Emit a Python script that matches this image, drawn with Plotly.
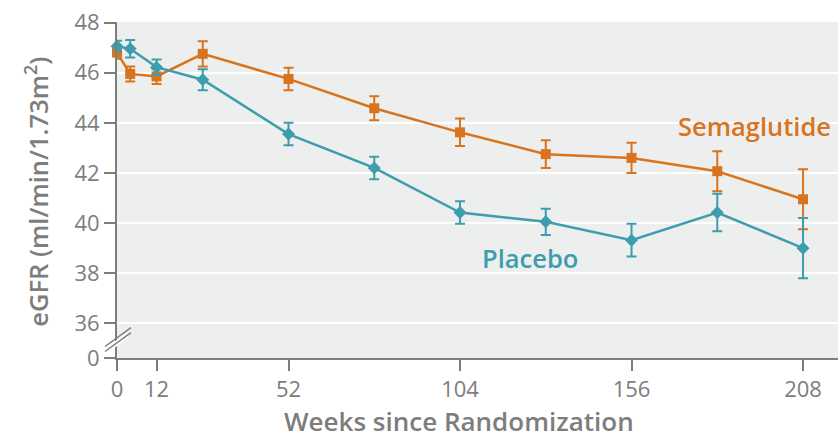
import plotly.graph_objects as go

# Visit schedule (weeks since randomization)
weeks = [0, 4, 12, 26, 52, 78, 104, 130, 156, 182, 208]

# Mean eGFR and error-bar half widths, ml/min/1.73 m2
sema_egfr = [46.8, 45.95, 45.85, 46.75, 45.75, 44.58, 43.62, 42.75, 42.6, 42.07, 40.95]
sema_err = [0.25, 0.3, 0.3, 0.5, 0.45, 0.48, 0.55, 0.55, 0.6, 0.8, 1.2]
plac_egfr = [47.05, 46.95, 46.22, 45.72, 43.55, 42.2, 40.42, 40.05, 39.32, 40.42, 39.0]
plac_err = [0.22, 0.35, 0.3, 0.42, 0.45, 0.45, 0.45, 0.52, 0.65, 0.75, 1.2]

x_ticks = [0, 12, 52, 104, 156, 208]
y_ticks = [36, 38, 40, 42, 44, 46, 48]
y_zero_pos = 34.62  # where the "0" of the broken axis sits

ORANGE = "#D8741E"
TEAL = "#3E9DAD"
GREY = "#7d7d7d"
FONT = "Open Sans"

W, H = 838, 438
ML, MR, MT, MB = 117, 0, 21.5, 80

fig = go.Figure()

fig.add_trace(go.Scatter(
    x=weeks, y=sema_egfr, mode="lines+markers", name="Semaglutide",
    line=dict(color=ORANGE, width=2.5),
    marker=dict(symbol="square", size=10, color=ORANGE),
    error_y=dict(type="data", array=sema_err, visible=True,
                 color=ORANGE, thickness=2, width=5),
    cliponaxis=False,
))
fig.add_trace(go.Scatter(
    x=weeks, y=plac_egfr, mode="lines+markers", name="Placebo",
    line=dict(color=TEAL, width=2.5),
    marker=dict(symbol="diamond", size=10, color=TEAL),
    error_y=dict(type="data", array=plac_err, visible=True,
                 color=TEAL, thickness=2, width=5),
    cliponaxis=False,
))

# Series labels
fig.add_annotation(x=193.4, y=43.88, xref="x", yref="y", text="Semaglutide",
                   xanchor="center", yanchor="middle", showarrow=False,
                   font=dict(family=FONT, size=25.5, color=ORANGE, weight=600))
fig.add_annotation(x=125.1, y=38.62, xref="x", yref="y", text="Placebo",
                   xanchor="center", yanchor="middle", showarrow=False,
                   font=dict(family=FONT, size=25.5, color=TEAL, weight=600))

pw = W - ML - MR
ph = H - MT - MB


def px_x(p):
    return (p - ML) / pw


def px_y(p):
    return (H - MB - p) / ph


# Axis titles
fig.add_annotation(x=px_x(459), y=px_y(421), xref="paper", yref="paper",
                   xanchor="center", yanchor="middle",
                   text="Weeks since Randomization", showarrow=False,
                   font=dict(family=FONT, size=26, color=GREY, weight=600))
fig.add_annotation(x=px_x(37), y=px_y(191.5), xref="paper", yref="paper",
                   xanchor="center", yanchor="middle",
                   text="eGFR (ml/min/1.73m<sup>2</sup>)", showarrow=False,
                   textangle=-90, font=dict(family=FONT, size=25.5, color=GREY, weight=600))

# Axis break marks on the y axis
fig.add_shape(type="line", xref="paper", yref="paper",
              x0=px_x(111), y0=px_y(347.5), x1=px_x(128), y1=px_y(334.5),
              line=dict(color="white", width=5), layer="above")
for dy in (-2.5, 2.5):
    fig.add_shape(type="line", xref="paper", yref="paper",
                  x0=px_x(105), y0=px_y(349 + dy), x1=px_x(131), y1=px_y(330 + dy),
                  line=dict(color=GREY, width=1.5), layer="above")

fig.update_layout(
    width=W, height=H,
    margin=dict(l=ML, r=MR, t=MT, b=MB),
    paper_bgcolor="white",
    plot_bgcolor="#EDEFEF",
    showlegend=False,
    font=dict(family=FONT, color=GREY),
)
fig.update_xaxes(
    range=[0, 218.6], tickvals=x_ticks, ticktext=[str(v) for v in x_ticks],
    showgrid=False, zeroline=False, showline=True, linecolor=GREY, linewidth=2,
    ticks="outside", ticklen=11, tickwidth=2, tickcolor=GREY,
    tickfont=dict(family=FONT, size=22, color=GREY),
)
fig.update_yaxes(
    range=[y_zero_pos, 48.02],
    tickvals=[y_zero_pos] + y_ticks, ticktext=["0"] + [str(v) for v in y_ticks],
    showgrid=True, gridcolor="white", gridwidth=2, zeroline=False,
    showline=True, linecolor=GREY, linewidth=2,
    ticks="outside", ticklen=11, tickwidth=2, tickcolor=GREY,
    tickfont=dict(family=FONT, size=22, color=GREY),
)

fig.write_html("out.html")
